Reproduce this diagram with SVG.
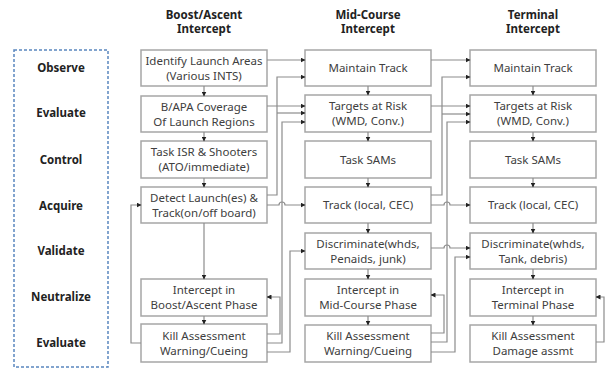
<svg xmlns="http://www.w3.org/2000/svg" width="607" height="370" viewBox="0 0 607 370">
<defs>
<marker id="ah" markerWidth="5" markerHeight="5" refX="4.5" refY="2.5" orient="auto" markerUnits="userSpaceOnUse">
<path d="M0,0 L5,2.5 L0,5 Z" fill="#222"/>
</marker>
<style>
.box{fill:#fff;stroke:#a6a6a6;stroke-width:1.5}
.t{font-family:"Noto Sans","Liberation Sans",sans-serif;font-size:11.5px;fill:#404040;text-anchor:middle}
.h{font-family:"Noto Sans","Liberation Sans",sans-serif;font-size:11.5px;font-weight:bold;fill:#222;text-anchor:middle}
.c{fill:none;stroke:#8c8c8c;stroke-width:1.2}
.a{marker-end:url(#ah)}
</style>
</defs>
<rect width="607" height="370" fill="#fff"/>
<g id="headers">
<text class="h" x="204" y="19">Boost/Ascent</text>
<text class="h" x="204" y="33">Intercept</text>
<text class="h" x="368" y="19">Mid-Course</text>
<text class="h" x="368" y="33">Intercept</text>
<text class="h" x="533" y="19">Terminal</text>
<text class="h" x="533" y="33">Intercept</text>
</g>
<g id="phases">
<rect x="14" y="50" width="94" height="317" fill="none" stroke="#5a86bf" stroke-width="1.5" stroke-dasharray="3,2"/>
<text class="h" x="61" y="72">Observe</text>
<text class="h" x="61" y="117">Evaluate</text>
<text class="h" x="61" y="164">Control</text>
<text class="h" x="61" y="210">Acquire</text>
<text class="h" x="61" y="255">Validate</text>
<text class="h" x="61" y="301">Neutralize</text>
<text class="h" x="61" y="347">Evaluate</text>
</g>
<g id="c1n1"><rect class="box" x="141" y="50" width="126" height="36"/><text class="t" x="204" y="65">Identify Launch Areas</text><text class="t" x="204" y="80">(Various INTS)</text></g>
<g id="c1n2"><rect class="box" x="141" y="96" width="126" height="36"/><text class="t" x="204" y="111">B/APA Coverage</text><text class="t" x="204" y="126">Of Launch Regions</text></g>
<g id="c1n3"><rect class="box" x="141" y="141" width="126" height="37"/><text class="t" x="204" y="156">Task ISR &amp; Shooters</text><text class="t" x="204" y="171">(ATO/immediate)</text></g>
<g id="c1n4"><rect class="box" x="141" y="187" width="126" height="36"/><text class="t" x="204" y="202">Detect Launch(es) &amp;</text><text class="t" x="204" y="217">Track(on/off board)</text></g>
<g id="c1n6"><rect class="box" x="141" y="279" width="126" height="37"/><text class="t" x="204" y="294">Intercept in</text><text class="t" x="204" y="309">Boost/Ascent Phase</text></g>
<g id="c1n7"><rect class="box" x="141" y="324" width="126" height="38"/><text class="t" x="204" y="340">Kill Assessment</text><text class="t" x="204" y="355">Warning/Cueing</text></g>
<g id="c2n1"><rect class="box" x="305" y="50" width="126" height="36"/><text class="t" x="368" y="72">Maintain Track</text></g>
<g id="c2n2"><rect class="box" x="305" y="95" width="126" height="37"/><text class="t" x="368" y="110">Targets at Risk</text><text class="t" x="368" y="125">(WMD, Conv.)</text></g>
<g id="c2n3"><rect class="box" x="305" y="141" width="126" height="37"/><text class="t" x="368" y="164">Task SAMs</text></g>
<g id="c2n4"><rect class="box" x="305" y="187" width="126" height="36"/><text class="t" x="368" y="209">Track (local, CEC)</text></g>
<g id="c2n5"><rect class="box" x="305" y="233" width="126" height="36"/><text class="t" x="368" y="248">Discriminate(whds,</text><text class="t" x="368" y="263">Penaids, junk)</text></g>
<g id="c2n6"><rect class="box" x="305" y="279" width="126" height="37"/><text class="t" x="368" y="294">Intercept in</text><text class="t" x="368" y="309">Mid-Course Phase</text></g>
<g id="c2n7"><rect class="box" x="305" y="325" width="126" height="37"/><text class="t" x="368" y="340">Kill Assessment</text><text class="t" x="368" y="355">Warning/Cueing</text></g>
<g id="c3n1"><rect class="box" x="470" y="50" width="126" height="36"/><text class="t" x="533" y="72">Maintain Track</text></g>
<g id="c3n2"><rect class="box" x="470" y="95" width="126" height="37"/><text class="t" x="533" y="110">Targets at Risk</text><text class="t" x="533" y="125">(WMD, Conv.)</text></g>
<g id="c3n3"><rect class="box" x="470" y="141" width="126" height="37"/><text class="t" x="533" y="164">Task SAMs</text></g>
<g id="c3n4"><rect class="box" x="470" y="187" width="126" height="36"/><text class="t" x="533" y="209">Track (local, CEC)</text></g>
<g id="c3n5"><rect class="box" x="470" y="233" width="126" height="36"/><text class="t" x="533" y="248">Discriminate(whds,</text><text class="t" x="533" y="263">Tank, debris)</text></g>
<g id="c3n6"><rect class="box" x="470" y="279" width="126" height="37"/><text class="t" x="533" y="294">Intercept in</text><text class="t" x="533" y="309">Terminal Phase</text></g>
<g id="c3n7"><rect class="box" x="470" y="325" width="126" height="37"/><text class="t" x="533" y="340">Kill Assessment</text><text class="t" x="533" y="355">Damage assmt</text></g>
<g id="connectors">
<!-- vertical flows col1 -->
<path class="c a" d="M204,86 V96"/>
<path class="c a" d="M204,132 V141"/>
<path class="c a" d="M204,178 V187"/>
<path class="c a" d="M204,223 V279"/>
<path class="c a" d="M204,316 V324"/>
<!-- col2 -->
<path class="c a" d="M368,86 V95"/>
<path class="c a" d="M368,132 V141"/>
<path class="c a" d="M368,178 V187"/>
<path class="c a" d="M368,223 V233"/>
<path class="c a" d="M368,269 V279"/>
<path class="c a" d="M368,316 V325"/>
<!-- col3 -->
<path class="c a" d="M533,86 V95"/>
<path class="c a" d="M533,132 V141"/>
<path class="c a" d="M533,178 V187"/>
<path class="c a" d="M533,223 V233"/>
<path class="c a" d="M533,269 V279"/>
<path class="c a" d="M533,316 V325"/>
<!-- col1 -> col2 -->
<path class="c a" d="M267,60 H305"/>
<path class="c a" d="M267,106 H305"/>
<path class="c a" d="M267,195 H277 V77 H305"/>
<path class="c a" d="M277,113 H305"/>
<path class="c a" d="M267,343 H282 V122 H305"/>
<path class="c a" d="M267,205 H279 A3,3 0 0 1 285,205 H305"/>
<path class="c a" d="M267,352 H290 V251 H305"/>
<path class="c a" d="M267,334 H280 V297 H267"/>
<path class="c a" d="M141,343 H131 V205 H141"/>
<!-- col2 -> col3 -->
<path class="c a" d="M431,60 H470"/>
<path class="c a" d="M431,106 H470"/>
<path class="c a" d="M431,195 H442 V77 H470"/>
<path class="c a" d="M442,114 H470"/>
<path class="c a" d="M431,342 H447 V122 H470"/>
<path class="c a" d="M431,205 H444 A3,3 0 0 1 450,205 H470"/>
<path class="c a" d="M431,248 H444 A3,3 0 0 1 450,248 H470"/>
<path class="c a" d="M431,352 H455 V257 H470"/>
<path class="c a" d="M431,333 H444 V295 H431"/>
<!-- col3 loop -->
<path class="c a" d="M596,342 H604 V297 H596"/>
</g>
</svg>
